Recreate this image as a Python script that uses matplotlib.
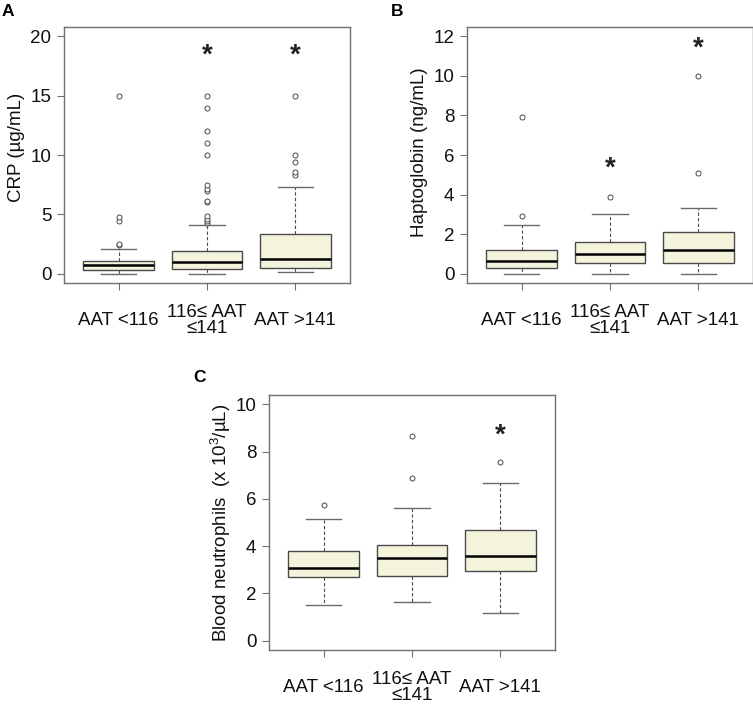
import matplotlib
matplotlib.use("Agg")
import matplotlib.pyplot as plt

plt.rcParams['font.family'] = ['Liberation Sans', 'DejaVu Sans']
plt.rcParams['mathtext.default'] = 'regular'

groups = ["AAT <116", "116\u2264 AAT\n\u2264141", "AAT >141"]

# CRP (ug/mL)
crp_q1 = [0.28, 0.36, 0.50]
crp_med = [0.70, 0.95, 1.23]
crp_q3 = [1.08, 1.90, 3.37]
crp_lo = [0.0, 0.0, 0.11]
crp_hi = [2.1, 4.07, 7.27]
crp_fliers = [[2.4, 2.5, 4.4, 4.8, 15.0],
              [4.25, 4.4, 4.6, 4.85, 6.05, 6.1, 7.0, 7.1, 7.5, 10.0, 11.0, 12.0, 14.0, 15.0],
              [8.3, 8.55, 9.4, 10.0, 15.0]]
crp_star = [None, 18.4, 18.4]

# Haptoglobin (ng/mL)
hp_q1 = [0.30, 0.51, 0.51]
hp_med = [0.63, 1.0, 1.2]
hp_q3 = [1.18, 1.59, 2.1]
hp_lo = [0.0, 0.0, 0.0]
hp_hi = [2.48, 2.99, 3.3]
hp_fliers = [[2.89, 7.9], [3.89], [5.09, 9.99]]
hp_star = [None, 5.3, 11.4]

# Blood neutrophils (x10^3/uL)
neu_q1 = [2.68, 2.75, 2.96]
neu_med = [3.08, 3.48, 3.59]
neu_q3 = [3.80, 4.03, 4.68]
neu_lo = [1.49, 1.63, 1.18]
neu_hi = [5.14, 5.62, 6.66]
neu_fliers = [[5.76], [6.87, 8.65], [7.55]]
neu_star = [None, None, 8.7]

fig = plt.figure(figsize=(7.53, 7.07), dpi=100)
W, H = 753.0, 707.0

fill = '#F4F4DC'
edge = '#4a4a4a'
frame = '#707070'
fs = 13.5


def panel(rect, letter, letter_xy, ylabel, ymax, yticks, q1, med, q3, lo, hi, fliers, stars, label_y):
    l, t, w, h = rect
    ax = fig.add_axes([l / W, 1 - (t + h) / H, w / W, h / H])
    stats = []
    for i in range(3):
        stats.append(dict(med=med[i], q1=q1[i], q3=q3[i], whislo=lo[i], whishi=hi[i], fliers=fliers[i]))
    ax.bxp(stats, positions=[1, 2, 3], widths=0.8, patch_artist=True, capwidths=0.4,
           boxprops=dict(facecolor=fill, edgecolor=edge, linewidth=1.0),
           medianprops=dict(color='black', linewidth=1.8),
           whiskerprops=dict(color=edge, linewidth=0.8, linestyle=(0, (3, 2))),
           capprops=dict(color='#6a6a6a', linewidth=1.0),
           flierprops=dict(marker='o', markersize=3.6, markerfacecolor='white',
                           markeredgecolor=edge, markeredgewidth=0.7))
    for i, s in enumerate(stars):
        if s is not None:
            ax.text(i + 1, s, '*', ha='center', va='center', fontsize=20, fontweight='bold', color='#222222')
    ax.set_xlim(0.38, 3.62)
    ax.set_ylim(-0.04 * ymax, 1.04 * ymax)
    ax.set_yticks(yticks)
    ax.set_yticklabels([str(v) for v in yticks])
    ax.set_xticks([1, 2, 3])
    ax.set_xticklabels(groups, va='center', linespacing=0.95)
    ax.tick_params(axis='both', direction='out', length=5, width=0.8, color=frame,
                   labelsize=fs, labelcolor='#111111')
    ax.tick_params(axis='x', pad=22)
    ax.tick_params(axis='y', pad=4)
    for sp in ax.spines.values():
        sp.set_color(frame)
        sp.set_linewidth(1.0)
    ax.text(-0.167, label_y, ylabel, rotation=90, ha='center', va='center',
            fontsize=fs, transform=ax.transAxes, color='#111111')
    fig.text(letter_xy[0] / W, 1 - letter_xy[1] / H, letter, fontsize=12.5, fontweight='bold',
             ha='left', va='center')
    return ax


panel((64, 27, 286, 256), 'A', (2, 12), 'CRP (\u00b5g/mL)', 20, [0, 5, 10, 15, 20],
      crp_q1, crp_med, crp_q3, crp_lo, crp_hi, crp_fliers, crp_star, 0.53)
panel((467, 27, 286, 256), 'B', (391, 12), 'Haptoglobin (ng/mL)', 12, [0, 2, 4, 6, 8, 10, 12],
      hp_q1, hp_med, hp_q3, hp_lo, hp_hi, hp_fliers, hp_star, 0.512)
panel((269, 395, 286, 255), 'C', (193, 378), 'Blood neutrophils  (x 10$^{3}$/\u00b5L)', 10, [0, 2, 4, 6, 8, 10],
      neu_q1, neu_med, neu_q3, neu_lo, neu_hi, neu_fliers, neu_star, 0.5)

fig.savefig('out.png', dpi=100)
